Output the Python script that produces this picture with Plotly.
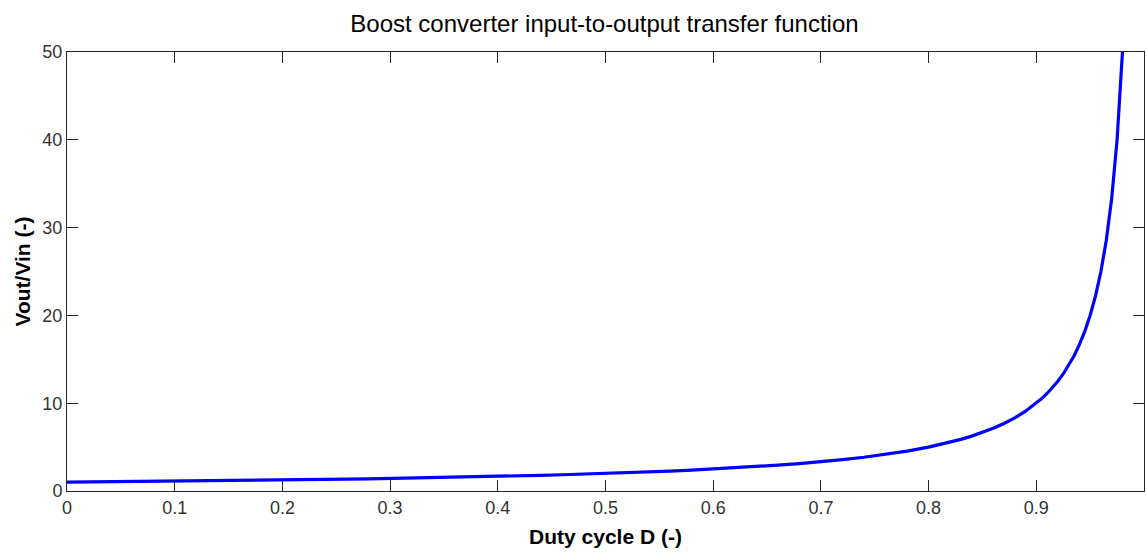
import plotly.graph_objects as go

# Duty cycle D and the corresponding voltage gain Vout/Vin
duty = [0.00, 0.02, 0.04, 0.06, 0.08, 0.10, 0.12, 0.14, 0.16, 0.18, 0.20,
        0.22, 0.24, 0.26, 0.28, 0.30, 0.32, 0.34, 0.36, 0.38, 0.40,
        0.42, 0.44, 0.46, 0.48, 0.50, 0.52, 0.54, 0.56, 0.58, 0.60,
        0.62, 0.64, 0.66, 0.68, 0.70, 0.72, 0.74, 0.76, 0.78, 0.80,
        0.81, 0.82, 0.83, 0.84, 0.85, 0.86, 0.87, 0.88, 0.89, 0.90,
        0.905, 0.91, 0.915, 0.92, 0.925, 0.93, 0.935, 0.94, 0.945, 0.95,
        0.955, 0.96, 0.965, 0.97, 0.975, 0.98]
gain = [1.000, 1.020, 1.042, 1.064, 1.087, 1.111, 1.136, 1.163, 1.190, 1.220, 1.250,
        1.282, 1.316, 1.351, 1.389, 1.429, 1.471, 1.515, 1.563, 1.613, 1.667,
        1.724, 1.786, 1.852, 1.923, 2.000, 2.083, 2.174, 2.273, 2.381, 2.500,
        2.632, 2.778, 2.941, 3.125, 3.333, 3.571, 3.846, 4.167, 4.545, 5.000,
        5.263, 5.556, 5.882, 6.250, 6.667, 7.143, 7.692, 8.333, 9.091, 10.00,
        10.53, 11.11, 11.76, 12.50, 13.33, 14.29, 15.38, 16.67, 18.18, 20.00,
        22.22, 25.00, 28.57, 33.33, 40.00, 50.00]

x_ticks = [0, 0.1, 0.2, 0.3, 0.4, 0.5, 0.6, 0.7, 0.8, 0.9, 1]
x_tick_text = ["0", "0.1", "0.2", "0.3", "0.4", "0.5", "0.6", "0.7", "0.8", "0.9", "1"]
y_ticks = [0, 10, 20, 30, 40, 50]

FONT = "Liberation Sans, Arial, sans-serif"

fig = go.Figure()
fig.add_trace(go.Scatter(
    x=duty, y=gain, mode="lines",
    line=dict(color="#0000ff", width=3.2),
    showlegend=False,
))

axis_common = dict(
    showline=True, linecolor="#262626", linewidth=1, mirror="ticks",
    ticks="inside", ticklen=11, tickwidth=1, tickcolor="#262626",
    showgrid=False, zeroline=False,
    tickfont=dict(family=FONT, size=18, color="#333333"),
)

fig.update_layout(
    width=1147, height=556,
    margin=dict(l=67, r=3, t=52, b=65),
    paper_bgcolor="white", plot_bgcolor="white",
    title=dict(text="Boost converter input-to-output transfer function",
               x=0.527, xanchor="center", y=0.958, yanchor="middle",
               font=dict(family=FONT, size=24, color="black")),
    xaxis=dict(range=[0, 1], tickvals=x_ticks, ticktext=x_tick_text,
               title=dict(text="<b>Duty cycle D (-)</b>", standoff=12,
                          font=dict(family=FONT, size=21, color="black")),
               **axis_common),
    yaxis=dict(range=[0, 50], tickvals=y_ticks,
               title=dict(text="<b>Vout/Vin (-)</b>", standoff=6,
                          font=dict(family=FONT, size=21, color="black")),
               **axis_common),
)

fig.write_html("out.html")
